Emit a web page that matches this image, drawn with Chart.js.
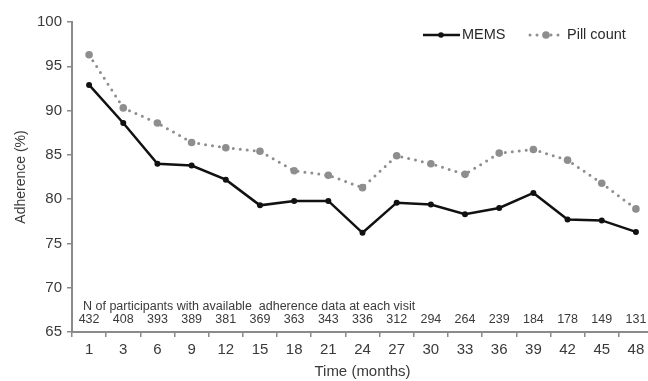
<!DOCTYPE html>
<html>
<head>
<meta charset="utf-8">
<script src="https://cdn.jsdelivr.net/npm/chart.js@4/dist/chart.umd.min.js"></script>
<style>
  html, body { margin: 0; padding: 0; background: #fff; overflow: hidden; }
  #wrap { width: 660px; height: 381px; }
</style>
</head>
<body>
<div id="wrap"><canvas id="c" width="660" height="381"></canvas></div>
<script>
// Visit months (x categories)
const months = ['1', '3', '6', '9', '12', '15', '18', '21', '24', '27', '30', '33', '36', '39', '42', '45', '48'];
// Mean adherence (%) by measurement method
const memsValues = [92.9, 88.6, 84.0, 83.8, 82.2, 79.3, 79.8, 79.8, 76.2, 79.6, 79.4, 78.3, 79.0, 80.7, 77.7, 77.6, 76.3];
const pillCountValues = [96.3, 90.3, 88.6, 86.4, 85.8, 85.4, 83.2, 82.7, 81.3, 84.9, 84.0, 82.8, 85.2, 85.6, 84.4, 81.8, 78.9];
// Participants with adherence data at each visit
const nParticipants = [432, 408, 393, 389, 381, 369, 363, 343, 336, 312, 294, 264, 239, 184, 178, 149, 131];
const nCaption = 'N of participants with available  adherence data at each visit';

const FONT = '"Liberation Sans", Arial, sans-serif';
const TEXT = '#3a3a3a';
const AXIS = '#8a8a8a';
const MEMS_COLOR = '#111111';
const PILL_COLOR = '#8e8e8e';

// Legend drawn inside the plot area, top right
const insideLegend = {
  id: 'insideLegend',
  afterDraw(chart) {
    const ctx = chart.ctx;
    const y = 35;
    ctx.save();
    // MEMS: solid line with a point
    ctx.strokeStyle = MEMS_COLOR; ctx.lineWidth = 2.5; ctx.setLineDash([]);
    ctx.beginPath(); ctx.moveTo(423, y); ctx.lineTo(460, y); ctx.stroke();
    ctx.fillStyle = MEMS_COLOR;
    ctx.beginPath(); ctx.arc(441, y, 2.8, 0, Math.PI * 2); ctx.fill();
    // Pill count: dotted line with a point
    ctx.strokeStyle = PILL_COLOR; ctx.lineWidth = 3; ctx.lineCap = 'round';
    ctx.setLineDash([0, 7]);
    ctx.beginPath(); ctx.moveTo(530, y); ctx.lineTo(564, y); ctx.stroke();
    ctx.setLineDash([]);
    ctx.fillStyle = PILL_COLOR;
    ctx.beginPath(); ctx.arc(546, y, 3.8, 0, Math.PI * 2); ctx.fill();
    ctx.fillStyle = '#2a2a2a';
    ctx.font = '14.5px ' + FONT;
    ctx.textBaseline = 'middle'; ctx.textAlign = 'left';
    ctx.fillText('MEMS', 462, y);
    ctx.fillText('Pill count', 567, y);
    ctx.restore();
  }
};

// Participant counts written above each visit tick
const countsRow = {
  id: 'countsRow',
  afterDraw(chart) {
    const ctx = chart.ctx;
    const x = chart.scales.x;
    ctx.save();
    ctx.fillStyle = TEXT;
    ctx.font = '12.5px ' + FONT;
    ctx.textBaseline = 'middle';
    ctx.textAlign = 'left';
    ctx.fillText(nCaption, 83, 307);
    ctx.textAlign = 'center';
    nParticipants.forEach((n, i) => {
      ctx.fillText(String(n), x.getPixelForValue(i), 320);
    });
    ctx.restore();
  }
};

new Chart(document.getElementById('c'), {
  type: 'line',
  data: {
    labels: months,
    datasets: [
      {
        label: 'Pill count',
        data: pillCountValues,
        borderColor: PILL_COLOR,
        backgroundColor: PILL_COLOR,
        borderWidth: 3,
        borderDash: [0, 7],
        borderCapStyle: 'round',
        pointRadius: 3.8,
        pointBorderWidth: 0,
        pointBackgroundColor: PILL_COLOR,
        tension: 0,
        fill: false
      },
      {
        label: 'MEMS',
        data: memsValues,
        borderColor: MEMS_COLOR,
        backgroundColor: MEMS_COLOR,
        borderWidth: 2.5,
        pointRadius: 3,
        pointBorderWidth: 0,
        pointBackgroundColor: MEMS_COLOR,
        tension: 0,
        fill: false
      }
    ]
  },
  options: {
    responsive: false,
    animation: false,
    devicePixelRatio: 1,
    layout: { padding: { top: 22, right: 7, bottom: 0, left: 0 } },
    plugins: { legend: { display: false }, tooltip: { enabled: false } },
    scales: {
      x: {
        type: 'category',
        offset: true,
        grid: { display: true, drawOnChartArea: false, offset: true, tickLength: 5, color: AXIS, lineWidth: 1.5 },
        border: { display: true, color: AXIS, width: 2 },
        ticks: { color: TEXT, font: { family: FONT, size: 15 }, padding: 4, maxRotation: 0, autoSkip: false },
        title: { display: true, text: 'Time (months)', color: TEXT, font: { family: FONT, size: 15 }, padding: { top: 0, bottom: 0 } },
        afterFit(scale) { scale.height = 49; }
      },
      y: {
        min: 65,
        max: 100,
        ticks: { stepSize: 5, color: TEXT, font: { family: FONT, size: 15 }, padding: 5 },
        grid: { display: true, drawOnChartArea: false, tickLength: 5, color: AXIS, lineWidth: 1.5 },
        border: { display: true, color: AXIS, width: 2 },
        title: { display: true, text: 'Adherence (%)', color: TEXT, font: { family: FONT, size: 14 }, padding: { top: 13, bottom: 0 } },
        afterFit(scale) { scale.width = 72; }
      }
    }
  },
  plugins: [insideLegend, countsRow]
});
</script>
</body>
</html>
